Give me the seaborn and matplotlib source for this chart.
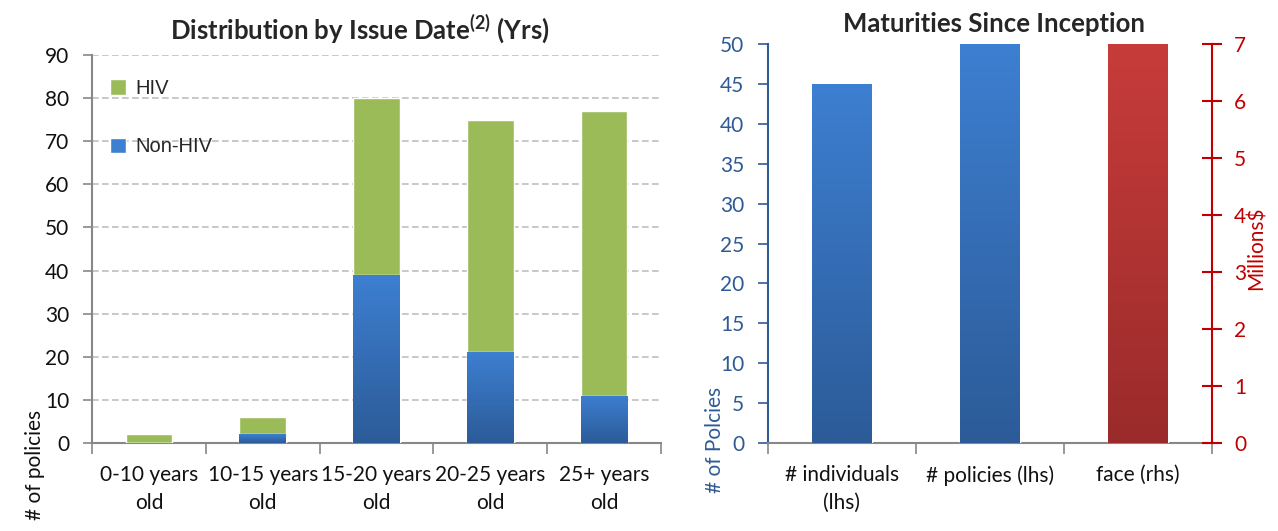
import numpy as np
import pandas as pd
import matplotlib
matplotlib.use("Agg")
import matplotlib.pyplot as plt
from matplotlib.colors import LinearSegmentedColormap
from matplotlib.patches import Patch
import seaborn as sns

# ---- data ----
age_cats = ["0-10 years\nold", "10-15 years\nold", "15-20 years\nold", "20-25 years\nold", "25+ years\nold"]
non_hiv = [0, 2, 39, 21, 11]
hiv = [2, 4, 41, 54, 66]
left_yticks = list(range(0, 100, 10))

mat_cats = ["# individuals\n(lhs)", "# policies (lhs)", "face (rhs)"]
mat_values = [45, 50, 7]
mat_axis = ["lhs", "lhs", "rhs"]
lhs_ticks = list(range(0, 55, 5))
rhs_ticks = list(range(0, 8, 1))

# ---- style ----
sns.set_theme(style="white")
plt.rcParams["font.family"] = ["Lato", "DejaVu Sans"]
plt.rcParams["mathtext.fontset"] = "custom"
plt.rcParams["mathtext.rm"] = "Lato"
plt.rcParams["mathtext.bf"] = "Lato:bold"

GREEN = "#9BBB59"
BLUE_TOP, BLUE_BOT = "#3D7FD1", "#2C5B98"
RED_TOP, RED_BOT = "#C73C3B", "#9A2B2A"
GRAY = "#878787"
AXBLUE = "#2E5A96"
AXRED = "#C00000"
FS = 15
TFS = 18.5


def add_gradient(ax, patch, top, bottom):
    x0, y0 = patch.get_xy()
    w, h = patch.get_width(), patch.get_height()
    if h <= 0:
        return
    cmap = LinearSegmentedColormap.from_list("g", [bottom, top])
    img = np.linspace(0, 1, 256).reshape(-1, 1)
    im = ax.imshow(img, extent=[x0, x0 + w, y0, y0 + h], origin="lower",
                   cmap=cmap, aspect="auto", zorder=patch.get_zorder() + 0.1,
                   interpolation="bilinear")
    im.set_clip_path(patch)


fig = plt.figure(figsize=(12.78, 5.31), dpi=100)

# ================= Left chart =================
W, H = 1278.0, 531.0
axL = fig.add_axes([92 / W, (H - 443) / H, (661 - 92) / W, (443 - 55) / H])
totals = [a + b for a, b in zip(non_hiv, hiv)]
df_left = pd.DataFrame({"cat": age_cats, "total": totals, "non_hiv": non_hiv})
sns.barplot(data=df_left, x="cat", y="total", color=GREEN, saturation=1,
            width=0.41, ax=axL, zorder=3)
n_green = len(axL.patches)
sns.barplot(data=df_left, x="cat", y="non_hiv", color=BLUE_TOP, saturation=1,
            width=0.41, ax=axL, zorder=3)
for p in list(axL.patches)[n_green:]:
    add_gradient(axL, p, BLUE_TOP, BLUE_BOT)

axL.set_xlim(-0.5, len(age_cats) - 0.5)
axL.set_ylim(0, 90)
axL.set_yticks(left_yticks)
axL.set_yticklabels([str(v) for v in left_yticks], fontsize=FS, color="#111111")
axL.yaxis.grid(True, linestyle=(0, (4, 2)), color="#BFBFBF", linewidth=1.2, zorder=0)
axL.set_axisbelow(True)
axL.tick_params(axis="y", direction="out", length=6.5, width=1.2, color=GRAY, pad=10, left=True)
axL.set_xticks(np.arange(-0.5, len(age_cats), 1.0))
axL.set_xticklabels([])
axL.set_xticks(np.arange(len(age_cats)), minor=True)
axL.set_xticklabels(age_cats, minor=True, fontsize=FS, color="#111111", linespacing=1.5)
axL.tick_params(axis="x", which="major", direction="out", length=8, width=1.2, color=GRAY, bottom=True)
axL.tick_params(axis="x", which="minor", length=0, pad=16)
for s in ["top", "right"]:
    axL.spines[s].set_visible(False)
for s in ["left", "bottom"]:
    axL.spines[s].set_color(GRAY)
    axL.spines[s].set_linewidth(1.5)
axL.set_xlabel("")
axL.set_ylabel("# of policies", fontsize=FS, color="#111111")
axL.yaxis.set_label_coords(-0.1, -0.057)
axL.yaxis.label.set_va("center")
axL.set_title(r"Distribution by Issue Date$^{\mathbf{(2)}}$ (Yrs)", fontsize=TFS,
              fontweight="bold", pad=11, x=0.47)
handles = [Patch(facecolor=GREEN, label="HIV"), Patch(facecolor=BLUE_TOP, label="Non-HIV")]
leg = axL.legend(handles=handles, loc="upper left", bbox_to_anchor=(0.0, 0.985), frameon=False,
                 handlelength=0.8, handleheight=0.8, labelspacing=1.95, handletextpad=0.45,
                 prop={"family": "Liberation Sans", "size": 14.5})

# ================= Right chart =================
axR = fig.add_axes([768 / W, (H - 443) / H, (1212 - 768) / W, (443 - 44) / H])
df_right = pd.DataFrame({"cat": mat_cats, "value": mat_values, "axis": mat_axis})
sns.barplot(data=df_right[df_right["axis"] == "lhs"], x="cat", y="value", order=mat_cats,
            color=BLUE_TOP, saturation=1, width=0.405, ax=axR, zorder=3)
for p in list(axR.patches):
    add_gradient(axR, p, BLUE_TOP, BLUE_BOT)
axR2 = axR.twinx()
sns.barplot(data=df_right[df_right["axis"] == "rhs"], x="cat", y="value", order=mat_cats,
            color=RED_TOP, saturation=1, width=0.405, ax=axR2, zorder=3)
for p in list(axR2.patches):
    add_gradient(axR2, p, RED_TOP, RED_BOT)

for a in (axR, axR2):
    a.set_xlim(-0.5, len(mat_cats) - 0.5)
axR.set_ylim(0, 50)
axR2.set_ylim(0, 7)
axR.set_yticks(lhs_ticks)
axR.set_yticklabels([str(v) for v in lhs_ticks], fontsize=FS, color=AXBLUE)
axR2.set_yticks(rhs_ticks)
axR2.set_yticklabels([str(v) for v in rhs_ticks], fontsize=FS, color=AXRED)
axR.tick_params(axis="y", direction="out", length=7, width=1.2, color=AXBLUE, pad=10, left=True)
axR2.tick_params(axis="y", direction="inout", length=14, width=1.5, color=AXRED, pad=9, right=True)

axR.set_xticks(np.arange(-0.5, len(mat_cats), 1.0))
axR.set_xticklabels([])
axR.set_xticks(np.arange(len(mat_cats)), minor=True)
axR.set_xticklabels(mat_cats, minor=True, fontsize=FS, color="#111111", linespacing=1.5)
axR.tick_params(axis="x", which="major", direction="out", length=8, width=1.2, color=GRAY, bottom=True)
axR.tick_params(axis="x", which="minor", length=0, pad=16)
axR2.tick_params(axis="x", which="both", length=0)

for a in (axR, axR2):
    a.spines["top"].set_visible(False)
axR.spines["right"].set_visible(False)
axR2.spines["left"].set_visible(False)
axR2.spines["bottom"].set_visible(False)
axR.spines["left"].set_color(AXBLUE)
axR.spines["left"].set_linewidth(1.5)
axR.spines["bottom"].set_color(GRAY)
axR.spines["bottom"].set_linewidth(1.5)
axR2.spines["right"].set_color(AXRED)
axR2.spines["right"].set_linewidth(1.5)

axR.set_xlabel("")
axR2.set_xlabel("")
axR.set_ylabel("# of Polcies", fontsize=FS, color=AXBLUE)
axR.yaxis.set_label_coords(-0.119, 0.008)
axR.yaxis.label.set_va("center")
axR2.set_ylabel("Millions$", fontsize=FS, color=AXRED)
axR2.yaxis.set_label_coords(1.101, 0.489)
axR2.yaxis.label.set_va("center")
axR.set_title("Maturities Since Inception", fontsize=TFS, fontweight="bold", pad=9, x=0.51)

fig.savefig("out.png", dpi=100)
